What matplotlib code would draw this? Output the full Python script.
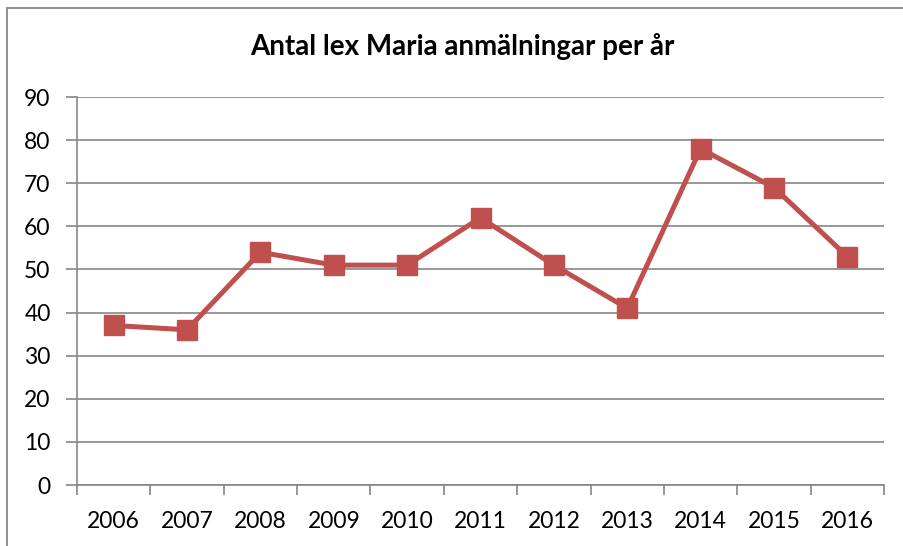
import numpy as np
import matplotlib.pyplot as plt
import matplotlib.patches as patches

plt.rcParams['font.family'] = ['Lato', 'DejaVu Sans']

years = ['2006', '2007', '2008', '2009', '2010', '2011', '2012', '2013', '2014', '2015', '2016']
counts = [37, 36, 54, 51, 51, 62, 51, 41, 78, 69, 53]
title = 'Antal lex Maria anmälningar per år'

fig = plt.figure(figsize=(9.04, 5.46), dpi=100)
ax = fig.add_axes([77/904, 1-485/546, (884-77)/904, (485-97)/546])

# outer chart frame (runs off right and bottom edge)
frame = patches.Rectangle((7/904, -0.1), 1.2, 1.1 - 8/546, transform=fig.transFigure,
                          fill=False, edgecolor='#868686', linewidth=1.3)
fig.patches.append(frame)

x = np.arange(len(years))
ax.plot(x, counts, color='#C0504D', linewidth=3.6, marker='s', markersize=14,
        markerfacecolor='#C0504D', markeredgecolor='#C0504D', zorder=3, clip_on=False)

ax.set_xlim(-0.5, len(years) - 0.5)
ax.set_ylim(0, 90)
ax.set_yticks(np.arange(0, 91, 10))
ax.set_xticks(x)
ax.set_xticklabels(years)
ax.set_xticks(np.arange(-0.5, len(years)), minor=True)

ax.grid(axis='y', color='#868686', linewidth=1.2)
ax.set_axisbelow(True)
for s in ['top', 'right']:
    ax.spines[s].set_visible(False)
for s in ['left', 'bottom']:
    ax.spines[s].set_color('#868686')
    ax.spines[s].set_linewidth(1.2)

ax.tick_params(axis='y', length=8, width=1.2, color='#868686', labelsize=16.5, pad=11)
ax.tick_params(axis='x', which='major', length=0, labelsize=16.5, pad=19)
ax.tick_params(axis='x', which='minor', length=7, width=1.2, color='#868686')

fig.text(462/904, 1 - 47/546, title, ha='center', va='center', fontsize=20, fontweight='bold')

fig.savefig('out.png', dpi=100)
